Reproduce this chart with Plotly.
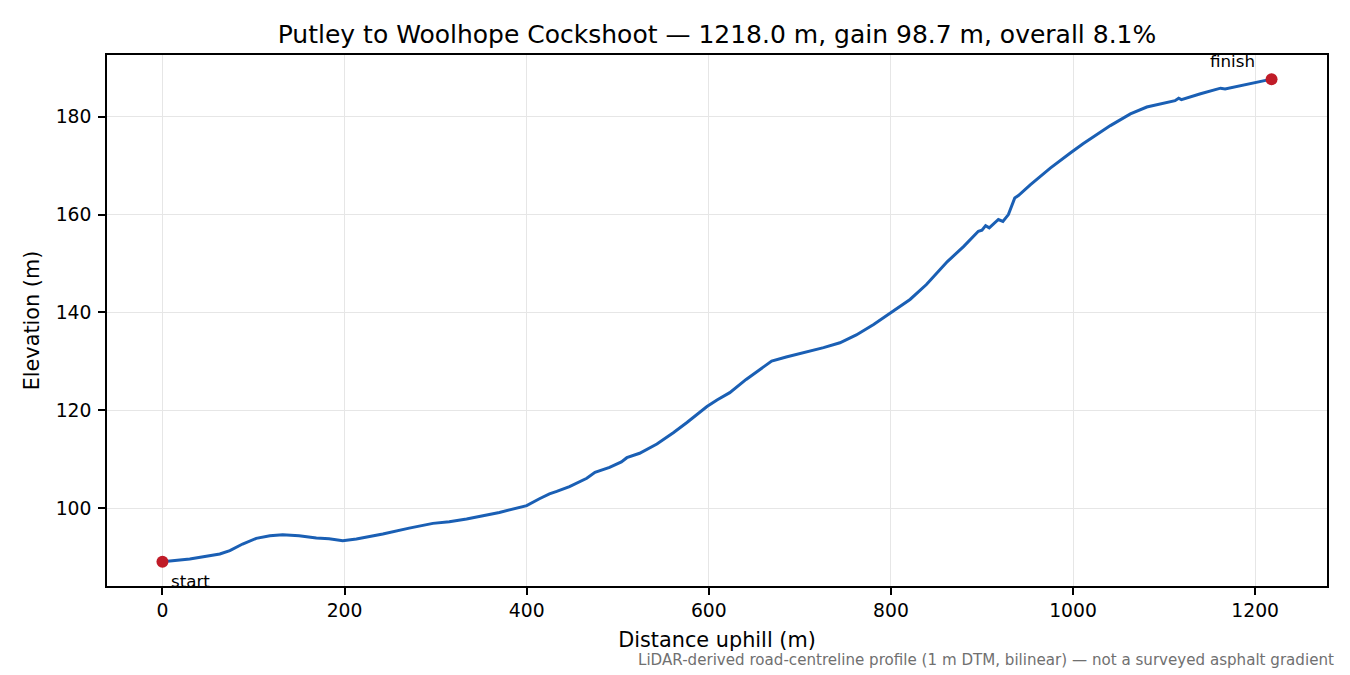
"""Road elevation profile, Putley to Woolhope Cockshoot."""

import plotly.graph_objects as go


# distance along the road (m) and elevation (m)
DIST_M = [
    0, 30, 63, 74, 88, 103, 118, 132, 150, 169, 183, 198, 213, 242, 271,
    297, 315, 334, 370, 400, 414, 425, 433, 447, 466, 475, 491, 504, 510,
    524, 543, 561, 576, 598, 609, 623, 641, 656, 669, 685, 707, 726, 744,
    762, 781, 800, 821, 839, 845, 862, 880, 891, 894, 896, 900, 904, 908,
    918, 923, 929, 936, 940, 953, 975, 997, 1011, 1041, 1063, 1081, 1107,
    1112, 1116, 1119, 1140, 1162, 1167, 1184, 1202, 1218,
]
ELEV_M = [
    89.0, 89.6, 90.6, 91.3, 92.65, 93.8, 94.35, 94.56, 94.35, 93.88, 93.74,
    93.33, 93.67, 94.7, 95.9, 96.87, 97.2, 97.75, 99.1, 100.5, 101.9, 102.9,
    103.4, 104.4, 106.1, 107.3, 108.3, 109.45, 110.3, 111.2, 113.1, 115.4,
    117.5, 120.75, 122.1, 123.6, 126.3, 128.4, 130.06, 130.9, 131.9, 132.8,
    133.8, 135.4, 137.55, 139.9, 142.65, 145.7, 146.9, 150.4, 153.5, 155.6,
    156.3, 156.6, 156.8, 157.75, 157.3, 159.0, 158.6, 160.0, 163.4, 163.9,
    166.1, 169.5, 172.6, 174.5, 178.2, 180.6, 182.0, 183.1, 183.3, 183.8,
    183.5, 184.7, 185.85, 185.7, 186.4, 187.0, 187.7,
]
X_TICKS = [0, 200, 400, 600, 800, 1000, 1200]
Y_TICKS = [100, 120, 140, 160, 180]

TITLE = "Putley to Woolhope Cockshoot — 1218.0 m, gain 98.7 m, overall 8.1%"
NOTE = ("LiDAR-derived road-centreline profile (1 m DTM, bilinear) — "
        "not a surveyed asphalt gradient")

LINE = "#1a5fb4"
DOT = "#c01c28"
INK = "#000000"
GRID = "#e6e6e6"
FONT = "DejaVu Sans, sans-serif"


def build():
    span = DIST_M[-1] - DIST_M[0]
    rise = max(ELEV_M) - min(ELEV_M)
    xr = [DIST_M[0] - 0.05 * span, DIST_M[-1] + 0.05 * span]
    yr = [min(ELEV_M) - 0.05 * rise, max(ELEV_M) + 0.05 * rise]

    fig = go.Figure()
    fig.add_scatter(
        x=DIST_M, y=ELEV_M, mode="lines",
        line=dict(color=LINE, width=3), showlegend=False,
    )
    fig.add_scatter(
        x=[DIST_M[0], DIST_M[-1]], y=[ELEV_M[0], ELEV_M[-1]], mode="markers",
        marker=dict(color=DOT, size=12), showlegend=False,
    )

    fig.add_annotation(
        x=DIST_M[0], y=ELEV_M[0], text="start", showarrow=False,
        xanchor="left", yanchor="middle", xshift=7, yshift=-19,
        font=dict(size=16.7, color=INK),
    )
    fig.add_annotation(
        x=DIST_M[-1], y=ELEV_M[-1], text="finish", showarrow=False,
        xanchor="right", yanchor="middle", xshift=-15, yshift=18,
        font=dict(size=16.7, color=INK),
    )
    fig.add_annotation(
        xref="paper", yref="paper", x=1.0074, y=-0.1394, text=NOTE,
        showarrow=False, xanchor="right", yanchor="middle",
        font=dict(size=15.1, color="#707070"),
    )

    axis_common = dict(
        showline=True, linecolor=INK, linewidth=1.6, mirror=True,
        ticks="outside", ticklen=7, tickwidth=1.6, tickcolor=INK,
        showgrid=True, gridcolor=GRID, gridwidth=1.4, zeroline=False,
        tickfont=dict(size=18.75, color=INK),
    )

    fig.update_layout(
        width=1350, height=675,
        paper_bgcolor="white", plot_bgcolor="white",
        font=dict(family=FONT, color=INK),
        margin=dict(l=107, r=23, t=55, b=89),
        title=dict(
            text=TITLE, x=0.5, xref="paper", xanchor="center",
            y=1 - 34 / 675, yref="container", yanchor="middle",
            font=dict(size=25, color=INK),
        ),
        xaxis=dict(
            range=xr, tickvals=X_TICKS, ticklabelstandoff=0,
            title=dict(text="Distance uphill (m)", font=dict(size=20.8),
                       standoff=12),
            **axis_common,
        ),
        yaxis=dict(
            range=yr, tickvals=Y_TICKS, ticklabelstandoff=3,
            title=dict(text="Elevation (m)", font=dict(size=20.8),
                       standoff=10),
            **axis_common,
        ),
    )

    # drop the default body margin so the figure sits flush in the window
    fig.write_html(
        "out.html",
        config={"displayModeBar": False},
        post_script="document.body.style.margin='0';"
                    "document.body.style.overflow='hidden';",
    )


if __name__ == "__main__":
    build()
